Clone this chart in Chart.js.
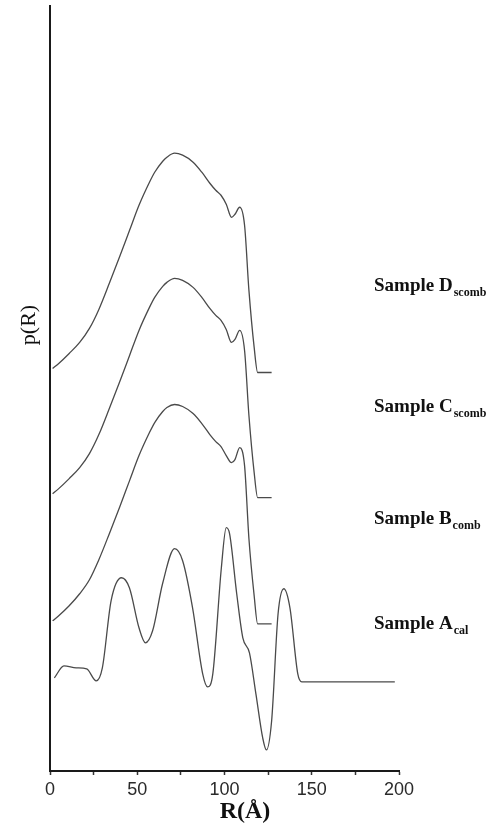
<!DOCTYPE html>
<html>
<head>
<meta charset="utf-8">
<script src="https://cdn.jsdelivr.net/npm/chart.js@4/dist/chart.umd.min.js"></script>
<style>
  body { margin: 0; background: #fff; }
  .wrap { width: 491px; height: 824px; }
</style>
</head>
<body>
<div class="wrap"><canvas id="prChart"></canvas></div>
<script>
// p(R) curves (arbitrary units, offset per sample)
const rD = [1.5, 5, 11, 17, 22.6, 28, 34, 40, 45.6, 51, 57, 60, 64.6, 67, 71.4, 76, 82, 87, 91.6, 95, 98, 101, 104, 106, 108.7, 111.5, 114, 117, 119, 127];
const pD = [402, 407, 417, 428, 442, 461, 487, 514, 540, 565, 588, 598, 609, 613, 617, 615, 608, 598, 587, 580, 575, 566, 553, 556, 563, 545, 480, 423, 398, 398];

const rC = [1.5, 5, 11, 17, 22.6, 28, 34, 40, 45.6, 51, 57, 60, 64.6, 67, 71.4, 76, 82, 87, 91.6, 95, 98, 101, 104, 106, 108.7, 111.5, 114, 117, 119, 127];
const pC = [277, 282, 292, 303, 317, 336, 362, 389, 415, 440, 463, 473, 484, 488, 492, 490, 483, 473, 462, 455, 450, 441, 428, 431, 440, 420, 355, 298, 273, 273];

const rB = [1.5, 5, 11, 17, 22.6, 28, 34, 40, 45.6, 51, 57, 60, 64.6, 67, 71.4, 76, 82, 87, 91.6, 95, 98, 101, 104, 106, 108.7, 111.5, 114, 117, 119, 127];
const pB = [150, 155, 165, 177, 191, 211, 237, 264, 290, 315, 338, 348, 359, 363, 366, 364, 357, 347, 336, 329, 324, 315, 308, 311, 323, 305, 232, 175, 147, 147];

const rA = [2.5, 8, 15, 21, 26.5, 30, 35, 41, 45.5, 51, 54.7, 58.8, 64.5, 71.4, 76, 81.7, 87.5, 90.3, 93.3, 98.2, 101, 102.9, 107, 110.5, 114.3, 118, 121.9, 124, 127, 130.7, 134, 137.5, 142, 144.3, 197.6];
const pA = [93, 105, 103, 102, 90, 103, 170, 193, 183, 143, 128, 140, 187, 222, 210, 163, 97, 84, 97, 203, 243, 237, 177, 133, 118, 77, 33, 21, 50, 157, 182, 163, 97, 89, 89];

const xTicks = [0, 50, 100, 150, 200];
const sampleNames = ['Sample D', 'Sample C', 'Sample B', 'Sample A'];
const sampleSubs = ['scomb', 'scomb', 'comb', 'cal'];

function pts(xs, ys) {
  return xs.map((x, i) => ({ x: x, y: ys[i] }));
}

function curve(label, xs, ys) {
  return {
    label: label,
    data: pts(xs, ys),
    borderColor: '#4a4a4a',
    borderWidth: 1.3,
    pointRadius: 0,
    fill: false,
    cubicInterpolationMode: 'monotone'
  };
}

// sample labels on the right, axis titles
const labelBaselines = [291, 412, 524, 629];
const sideText = {
  id: 'sideText',
  afterDraw(chart) {
    const ctx = chart.ctx;
    ctx.save();
    ctx.fillStyle = '#111';
    ctx.textBaseline = 'alphabetic';
    ctx.textAlign = 'left';
    sampleNames.forEach((name, i) => {
      const x = 374;
      const y = labelBaselines[i];
      ctx.font = 'bold 19px "Liberation Serif"';
      ctx.fillText(name, x, y);
      const w = ctx.measureText(name).width;
      ctx.font = 'bold 12px "Liberation Serif"';
      ctx.fillText(sampleSubs[i], x + w + 1, y + 5);
    });

    // x title
    ctx.textAlign = 'center';
    ctx.textBaseline = 'middle';
    ctx.font = 'bold 24px "Liberation Serif"';
    ctx.fillText('R(Å)', 245, 812);

    // y title
    ctx.translate(29, 325);
    ctx.rotate(-Math.PI / 2);
    ctx.font = '22px "Liberation Serif"';
    ctx.fillText('p(R)', 0, 0);
    ctx.restore();
  }
};

const config = {
  type: 'line',
  data: {
    datasets: [
      curve('Sample D', rD, pD),
      curve('Sample C', rC, pC),
      curve('Sample B', rB, pB),
      curve('Sample A', rA, pA)
    ]
  },
  options: {
    responsive: true,
    maintainAspectRatio: false,
    animation: false,
    layout: {
      padding: { top: 6, right: 92, left: 0, bottom: 0 }
    },
    scales: {
      x: {
        type: 'linear',
        min: 0,
        max: 200,
        afterFit: (s) => { s.height = 53; },
        border: { color: '#1a1a1a', width: 2 },
        grid: {
          drawOnChartArea: false,
          tickLength: 4,
          tickColor: '#333',
          tickWidth: 1.5
        },
        ticks: {
          stepSize: 25,
          padding: 4,
          color: '#2a2a2a',
          font: { family: '"Liberation Sans"', size: 18 },
          maxRotation: 0,
          callback: (v) => xTicks.includes(v) ? v : ''
        }
      },
      y: {
        type: 'linear',
        min: 0,
        max: 764,
        afterFit: (s) => { s.width = 50; },
        border: { color: '#1a1a1a', width: 2 },
        grid: { display: false, drawTicks: false },
        ticks: { display: false }
      }
    },
    plugins: {
      legend: { display: false },
      tooltip: { enabled: false }
    }
  },
  plugins: [sideText]
};

const prChart = new Chart(document.getElementById('prChart'), config);
</script>
</body>
</html>
